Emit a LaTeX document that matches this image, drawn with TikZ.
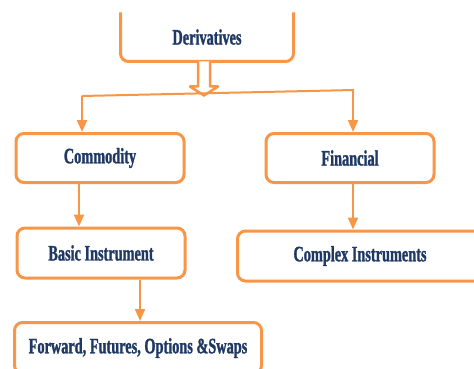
\documentclass[tikz,border=0pt]{standalone}
\usepackage{fontspec}
\setmainfont{Liberation Serif}[FakeStretch=0.65, BoldFeatures={FakeBold=1.2}]
\usepackage{xcolor}
\usetikzlibrary{arrows.meta, calc, positioning}
\definecolor{boxorange}{HTML}{F79646}
\definecolor{textnavy}{HTML}{1F3864}
\tikzset{
	boxline/.style={draw=boxorange, line width=3pt, rounded corners=8pt},
	box/.style={boxline, fill=white, text=textnavy, inner sep=0pt,
		font=\fontsize{22}{26}\selectfont\bfseries},
	link/.style={draw=boxorange, line width=2pt},
	arr/.style={link, -{Triangle[length=12pt,width=10pt]}}
}

\begin{document}
\begin{tikzpicture}[
	x=1pt, y=-1pt,
	wide/.style={minimum width=168pt, minimum height=49pt}]
	\useasboundingbox (0,0) rectangle (474,369);
	\clip (0,0) rectangle (474,369);
	% top box, cut off at the upper edge
	\node[box, draw=none, minimum width=170pt, minimum height=46pt] (deriv) at (207,37) {Derivatives};
	\draw[boxline] (deriv.north west) -- (deriv.south west) -- (deriv.south east) -- (deriv.north east);
	\node[box, wide] (comm) at (100,158) {Commodity};
	\node[box, wide] (fin) at (350,158) {Financial};
	\node[box, wide, minimum height=50pt] (basic) at (101,253) {Basic Instrument};
	\node[box, minimum width=245pt, minimum height=50pt] (cplx) at (360,256) {Complex Instruments};
	\node[box, minimum width=247pt, minimum height=51pt] (fwd) at (138,348) {Forward, Futures, Options \&Swaps};
	\coordinate (barL) at (82,96);
	\coordinate (barR) at (354,90);
	% hollow arrow onto the bar
	\draw[link, line width=2.5pt, fill=white, line join=round]
		([xshift=-9pt]deriv.south) -- ++(0,25) -- ++(-8,0) -- ($(deriv.south)+(-3,34)$)
		-- ++(14,-9) -- ++(-8,0) -- ([xshift=3pt]deriv.south);
	\draw[link] (barL) -- (barR);
	\draw[arr] (barL) -- (barL |- comm.north);
	\draw[arr] ([xshift=-1pt]barR) -- ([xshift=-1pt]barR |- fin.north);
	\draw[arr] ([xshift=-21pt]comm.south) -- ([xshift=-21pt]comm.south |- basic.north);
	\draw[arr] ([xshift=3pt]fin.south) -- ([xshift=3pt]fin.south |- cplx.north);
	\draw[arr] ([xshift=39pt]basic.south) -- ([xshift=39pt]basic.south |- fwd.north);
\end{tikzpicture}
\end{document}
